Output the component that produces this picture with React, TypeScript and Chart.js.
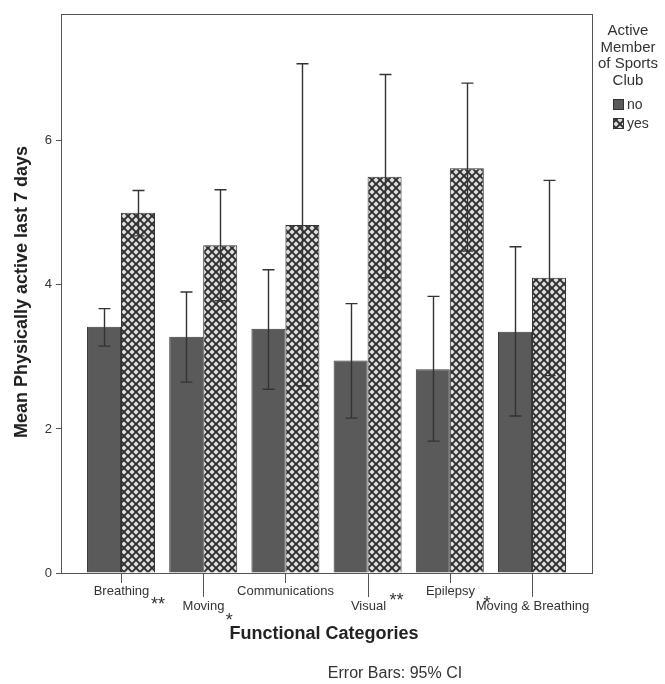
import React, { useEffect, useRef } from "react";
import { Chart, registerables } from "chart.js";

Chart.register(...registerables);

const categories = ["Breathing", "Moving", "Communications", "Visual", "Epilepsy", "Moving & Breathing"];
const noMeans = [3.42, 3.28, 3.39, 2.95, 2.83, 3.35];
const noLow = [3.15, 2.65, 2.55, 2.15, 1.83, 2.18];
const noHigh = [3.67, 3.9, 4.21, 3.74, 3.84, 4.53];
const yesMeans = [5.0, 4.55, 4.83, 5.5, 5.62, 4.1];
const yesLow = [4.68, 3.78, 2.6, 4.1, 4.47, 2.74];
const yesHigh = [5.31, 5.32, 7.07, 6.92, 6.8, 5.45];
const significance = ["**", "*", "", "**", "", "*"];
const yTicks = [0, 2, 4, 6];
const seriesNames = ["no", "yes"];

const FONT = "'Liberation Sans', Arial, sans-serif";

function makeHatch(): CanvasPattern | string {
  const c = document.createElement("canvas");
  c.width = 8;
  c.height = 8;
  const g = c.getContext("2d");
  if (!g) return "#999";
  g.fillStyle = "#dedede";
  g.fillRect(0, 0, 8, 8);
  g.strokeStyle = "#2c2c2c";
  g.lineWidth = 1.9;
  g.beginPath();
  g.moveTo(-1, -1);
  g.lineTo(9, 9);
  g.moveTo(9, -1);
  g.lineTo(-1, 9);
  g.stroke();
  const p = g.createPattern(c, "repeat");
  return p || "#999";
}

export default function App() {
  const ref = useRef<HTMLCanvasElement | null>(null);

  useEffect(() => {
    document.body.style.margin = "0";
    const canvas = ref.current;
    if (!canvas) return;
    const hatch = makeHatch();

    const overlay = {
      id: "overlay",
      afterDatasetsDraw(chart: any) {
        const ctx = chart.ctx;
        const ys = chart.scales.y;
        const lows = [noLow, yesLow];
        const highs = [noHigh, yesHigh];
        ctx.save();
        ctx.strokeStyle = "#333";
        ctx.lineWidth = 1.4;
        [0, 1].forEach((di) => {
          const meta = chart.getDatasetMeta(di);
          meta.data.forEach((bar: any, i: number) => {
            const x = Math.round(bar.x) + 0.5;
            const yl = ys.getPixelForValue(lows[di][i]);
            const yh = ys.getPixelForValue(highs[di][i]);
            ctx.beginPath();
            ctx.moveTo(x, yl);
            ctx.lineTo(x, yh);
            ctx.moveTo(x - 6, yl);
            ctx.lineTo(x + 6, yl);
            ctx.moveTo(x - 6, yh);
            ctx.lineTo(x + 6, yh);
            ctx.stroke();
          });
        });
        ctx.restore();
      },
      afterDraw(chart: any) {
        const ctx = chart.ctx;
        const a = chart.chartArea;
        const xs = chart.scales.x;
        ctx.save();
        // frame
        ctx.strokeStyle = "#555";
        ctx.lineWidth = 1;
        ctx.strokeRect(Math.round(a.left) + 0.5, Math.round(a.top) + 0.5, Math.round(a.right - a.left), Math.round(a.bottom - a.top));
        // category ticks & labels (staggered)
        ctx.font = `13px ${FONT}`;
        ctx.fillStyle = "#333";
        ctx.textAlign = "center";
        ctx.textBaseline = "middle";
        categories.forEach((c, i) => {
          const x = Math.round(xs.getPixelForValue(i)) + 0.5;
          const row = i % 2;
          const tickEnd = a.bottom + (row ? 24 : 10);
          ctx.beginPath();
          ctx.moveTo(x, a.bottom);
          ctx.lineTo(x, tickEnd);
          ctx.stroke();
          ctx.fillText(c, x, a.bottom + (row ? 33 : 18));
        });
        // significance markers
        const offs = [[37, 32], [26, 48], [0, 0], [29, 28], [0, 0], [-45, 31]];
        ctx.font = `18px ${FONT}`;
        significance.forEach((s, i) => {
          if (!s) return;
          const x = xs.getPixelForValue(i) + offs[i][0];
          ctx.fillText(s, x, a.bottom + offs[i][1]);
        });
        // axis titles
        ctx.font = `bold 18px ${FONT}`;
        ctx.fillStyle = "#222";
        ctx.fillText("Functional Categories", 324, 634);
        ctx.save();
        ctx.translate(22, 292);
        ctx.rotate(-Math.PI / 2);
        ctx.fillText("Mean Physically active last 7 days", 0, 0);
        ctx.restore();
        // footer
        ctx.font = `16px ${FONT}`;
        ctx.fillStyle = "#333";
        ctx.fillText("Error Bars: 95% CI", 395, 674);
        // legend
        const lx = 628;
        ctx.font = `15px ${FONT}`;
        ["Active", "Member", "of Sports", "Club"].forEach((t, k) => {
          ctx.fillText(t, lx, 31 + k * 16.5);
        });
        ctx.textAlign = "left";
        ctx.font = `14px ${FONT}`;
        const fills = [chart.data.datasets[0].backgroundColor, chart.data.datasets[1].backgroundColor];
        seriesNames.forEach((n, k) => {
          const by = 99 + k * 19;
          ctx.fillStyle = fills[k];
          ctx.fillRect(613, by, 11, 11);
          ctx.strokeStyle = "#333";
          ctx.strokeRect(613.5, by + 0.5, 10, 10);
          ctx.fillStyle = "#333";
          ctx.fillText(n, 627, by + 6);
        });
        ctx.restore();
      },
    };

    const chart = new Chart(canvas, {
      type: "bar",
      data: {
        datasets: [
          {
            label: seriesNames[0],
            data: noMeans.map((v, i) => ({ x: i, y: v })),
            backgroundColor: "#5a5a5a",
            borderColor: "#3a3a3a",
            borderWidth: 1,
          },
          {
            label: seriesNames[1],
            data: yesMeans.map((v, i) => ({ x: i, y: v })),
            backgroundColor: hatch as any,
            borderColor: "#333",
            borderWidth: 1,
          },
        ],
      },
      options: {
        animation: false,
        responsive: false,
        maintainAspectRatio: false,
        layout: { padding: { left: 0, top: 14, right: 73, bottom: 0 } },
        plugins: { legend: { display: false }, tooltip: { enabled: false }, title: { display: false } },
        datasets: { bar: { barPercentage: 1, categoryPercentage: 0.827 } },
        scales: {
          x: {
            type: "linear",
            min: -0.73,
            max: 5.73,
            offset: false,
            afterBuildTicks(scale: any) {
              scale.ticks = categories.map((_, i) => ({ value: i }));
            },
            ticks: { display: false },
            grid: { display: false },
            border: { display: false },
            afterFit(scale: any) {
              scale.height = 111;
            },
          },
          y: {
            type: "linear",
            min: 0,
            max: 7.76,
            afterBuildTicks(scale: any) {
              scale.ticks = yTicks.map((v) => ({ value: v }));
            },
            ticks: {
              font: { family: FONT, size: 13 },
              color: "#333",
              padding: 4,
            },
            grid: { drawOnChartArea: false, tickLength: 5, color: "#555" },
            border: { display: true, color: "#555" },
            afterFit(scale: any) {
              scale.width = 61;
            },
          },
        },
      },
      plugins: [overlay],
    } as any);

    return () => chart.destroy();
  }, []);

  return (
    <div style={{ width: 665, height: 684, position: "relative", background: "#fff" }}>
      <canvas ref={ref} width={665} height={684} style={{ display: "block" }} />
    </div>
  );
}
